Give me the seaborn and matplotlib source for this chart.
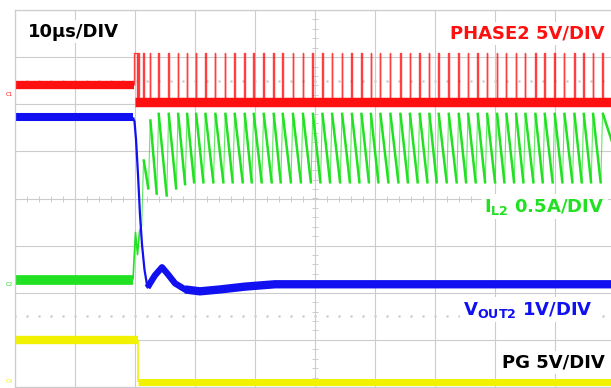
import numpy as np
import matplotlib
matplotlib.use("Agg")
import matplotlib.pyplot as plt
import seaborn as sns

# scope screen: 10 us/div, trigger at t = 0, 8 vertical divisions (0 = centre line)
t_range = (-20, 80)
div_range = (-4, 4)

# PHASE2 (red) - switching pulse edges, in us
phase_pulses = [-0.12, 0.45, 1.38, 2.50, 3.88, 5.55, 7.12, 8.62, 10.12, 11.67,
                13.33, 15.00, 16.55, 18.22, 19.72, 21.38, 23.05, 24.55, 26.25, 27.92,
                29.58, 31.17, 32.78, 34.45, 36.08, 37.67, 39.25, 40.83, 42.50, 44.17,
                45.75, 47.38, 49.00, 50.55, 52.22, 53.88, 55.45, 57.05, 58.62, 60.28,
                61.83, 63.45, 65.00, 66.67, 68.22, 69.88, 71.50, 73.17, 74.72, 76.28,
                77.88]
phase_widths_start = [0.38, 0.28]
phase_width = 0.08
phase_pre_div = 2.40
phase_low_div = 2.04
phase_high_div = 3.08

# IL2 (green)
il_pre_div = -1.72
il_start_t = [-0.33, 0.08, 0.42, 0.75, 1.13]
il_start_div = [-1.72, -0.72, -1.19, -0.70, -0.55]
il_valley_start = [0.19, 0.08, 0.04, 0.19, 0.28]
il_valley_div = 0.32
il_peak_start = [0.83, 1.68]
il_peak_div = 1.82

# VOUT2 (blue)
vout_pre_div = 1.73
vout_t = [-0.33, -0.08, 0.17, 0.50, 0.83, 1.17, 1.58, 2.08, 2.50, 3.33, 4.50,
          5.50, 6.67, 8.33, 10.83, 14.17, 18.33, 23.33, 80.0]
vout_div = [1.72, 1.63, 1.25, 0.51, -0.34, -0.98, -1.51, -1.89, -1.80, -1.63, -1.46,
            -1.61, -1.80, -1.93, -1.97, -1.93, -1.87, -1.82, -1.82]

# PG (yellow)
pg_edge_t = 0.42
pg_high_div = -3.01
pg_low_div = -3.90

RED = "#ff1010"
GREEN = "#22e022"
BLUE = "#1010f0"
YELLOW = "#f2f200"
GRID = "#cccccc"

sns.set_theme(style="white")
plt.rcParams["font.family"] = ["DejaVu Sans"]
plt.rcParams["mathtext.fontset"] = "dejavusans"
plt.rcParams["lines.solid_capstyle"] = "butt"

fig = plt.figure(figsize=(6.11, 3.88), dpi=100)
ax = fig.add_axes([15 / 611, 1 / 388, 600 / 611, 377 / 388])


def trace(t, v, color, lw, alpha=1.0, units=None):
    sns.lineplot(x=t, y=v, units=units, sort=False, estimator=None, color=color,
                 lw=lw, alpha=alpha, solid_capstyle="butt", ax=ax)


# graticule
ax.set_xlim(*t_range)
ax.set_ylim(*div_range)
ax.set_xticks(np.arange(t_range[0], t_range[1] + 1, 10))
ax.set_yticks(np.arange(div_range[0], div_range[1] + 1, 1))
ax.grid(True, color=GRID, lw=0.8)
ax.tick_params(length=0, labelbottom=False, labelleft=False)
for s in ax.spines.values():
    s.set_color(GRID)
    s.set_linewidth(0.9)
minor_x = np.arange(t_range[0], t_range[1] + 0.1, 2)
minor_y = np.arange(div_range[0], div_range[1] + 0.01, 0.2)
ax.plot(minor_x, np.zeros_like(minor_x), ls="none", marker="|", ms=4, mew=0.7, color=GRID)
ax.plot(np.full_like(minor_y, 30), minor_y, ls="none", marker="_", ms=4, mew=0.7, color=GRID)
for lvl in (2.5, -2.5):
    ax.plot(minor_x, np.full_like(minor_x, lvl), ls="none", marker="o", ms=0.9, color="#d0d0d0")

# PHASE2
trace([t_range[0], phase_pulses[0]], [phase_pre_div] * 2, RED, 6.0)
trace([0.0, t_range[1]], [phase_low_div] * 2, RED, 6.8)
pt, pv, pu = [], [], []
for i, tp in enumerate(phase_pulses):
    w = phase_widths_start[i] if i < len(phase_widths_start) else phase_width
    base = phase_pre_div if i == 0 else phase_low_div
    pt += [tp, tp, tp + w, tp + w]
    pv += [base, phase_high_div, phase_high_div, phase_low_div]
    pu += [i] * 4
trace(pt, pv, RED, 1.0, alpha=0.8, units=pu)

# IL2: slow falling ramps (bold) and fast rising edges (faint)
saw = phase_pulses[2:]
peaks = [il_peak_start[i] if i < len(il_peak_start) else il_peak_div for i in range(len(saw))]
valleys = [il_valley_start[i] if i < len(il_valley_start) else il_valley_div for i in range(len(saw))]
trace([t_range[0], il_start_t[0]], [il_pre_div] * 2, GREEN, 7.0)
trace(il_start_t, il_start_div, GREEN, 1.2)
rt, rv, ru = [], [], []
ft, fv, fu = [], [], []
prev_t, prev_v = il_start_t[-1], il_start_div[-1]
for i, tp in enumerate(saw):
    rt += [prev_t, tp + 0.05]
    rv += [prev_v, peaks[i]]
    ru += [i, i]
    nxt = saw[i + 1] - 0.25 if i + 1 < len(saw) else t_range[1] + 1
    nv = valleys[i] if i + 1 < len(saw) else il_valley_div + 0.3
    ft += [tp + 0.05, nxt]
    fv += [peaks[i], nv]
    fu += [i, i]
    prev_t, prev_v = nxt, nv
trace(rt, rv, GREEN, 0.8, alpha=0.7, units=ru)
trace(ft, fv, GREEN, 1.8, units=fu)

# VOUT2
trace([t_range[0], vout_t[0]], [vout_pre_div] * 2, BLUE, 5.8)
trace(vout_t, vout_div, BLUE, 1.6)
trace(vout_t[7:], vout_div[7:], BLUE, 4.6)
trace(vout_t[13:], vout_div[13:], BLUE, 6.0)

# PG
trace([t_range[0], pg_edge_t], [pg_high_div] * 2, YELLOW, 6.0)
trace([pg_edge_t, pg_edge_t], [pg_high_div, pg_low_div], YELLOW, 1.2)
trace([pg_edge_t, t_range[1]], [pg_low_div] * 2, YELLOW, 5.0)

ax.set_xlabel("")
ax.set_ylabel("")

box = dict(facecolor="white", edgecolor="none", pad=2)
lab = dict(fontsize=13, fontweight="bold", va="center", bbox=box)
ax.text(-17.8, 3.54, "10µs/DIV", color="black", ha="left", **lab)
ax.text(78.3, 3.5, "PHASE2 5V/DIV", color=RED, ha="right", **lab)
ax.text(78.3, -0.17, r"I$_\mathbf{L2}$ 0.5A/DIV", color=GREEN, ha="right", **lab)
ax.text(76.3, -2.36, r"V$_\mathbf{OUT2}$ 1V/DIV", color=BLUE, ha="right", **lab)
ax.text(78.3, -3.48, "PG 5V/DIV", color="black", ha="right", **lab)

# channel markers left of the screen
for y, name, c in [(2.16, "C1", RED), (-1.87, "C2", GREEN), (-3.93, "C4", YELLOW)]:
    ax.text(-20.9, y, name, color=c, fontsize=4, ha="center", va="bottom", clip_on=False)

fig.savefig("out.png", dpi=100)
